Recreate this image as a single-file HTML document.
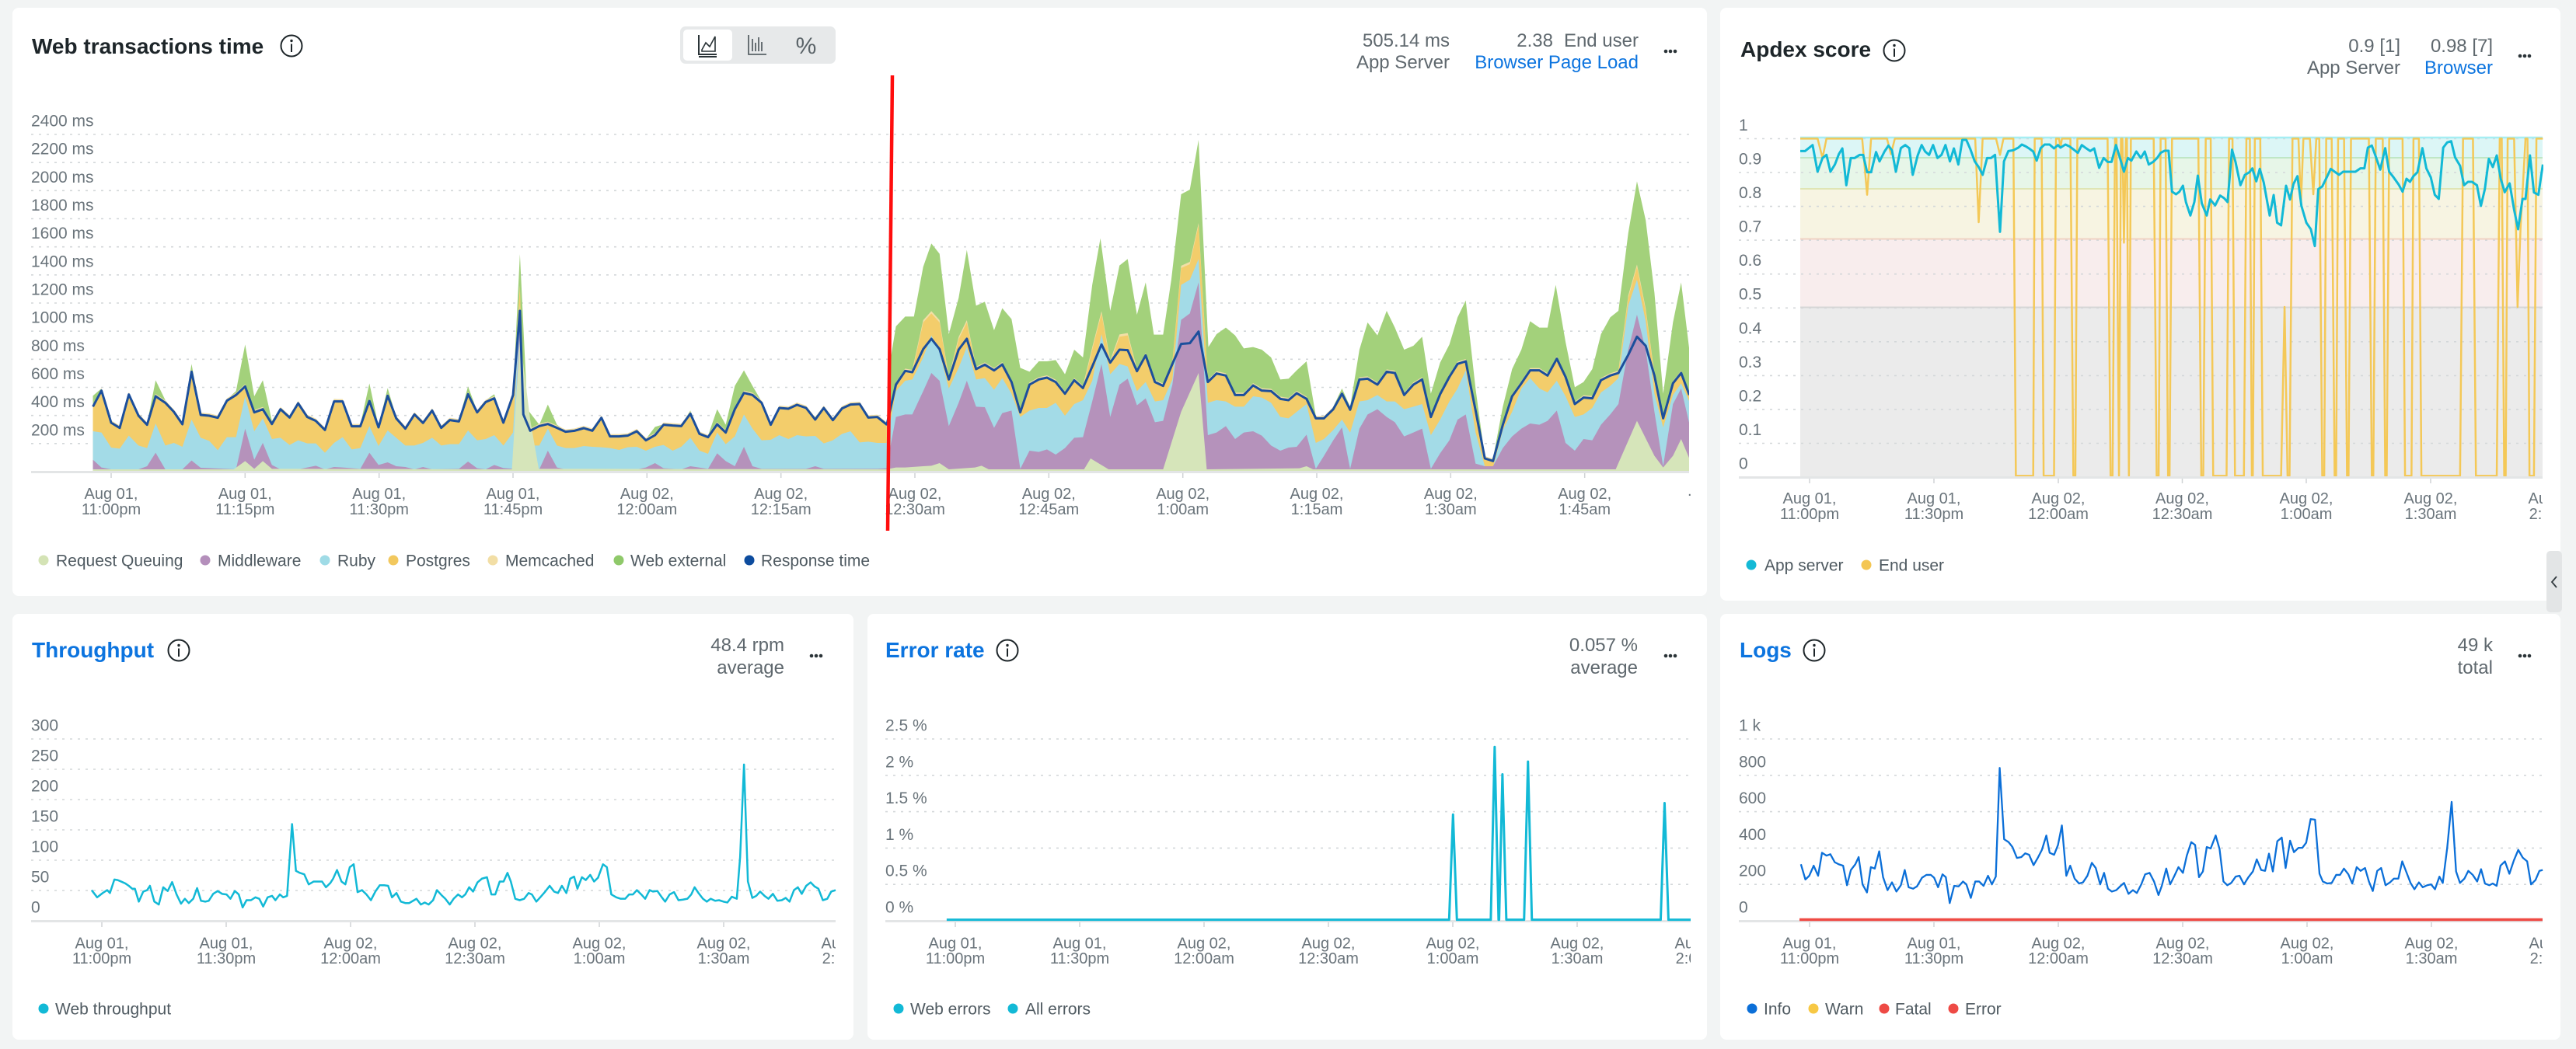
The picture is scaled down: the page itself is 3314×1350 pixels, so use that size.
<!DOCTYPE html>
<html><head><meta charset="utf-8">
<style>
html,body{margin:0;padding:0;background:#f2f4f4;}
svg{display:block;}
text{font-family:"Liberation Sans",Arial,sans-serif;}
.ax{font-size:21px;fill:#6a747b;}
.xl{font-size:20px;fill:#6a747b;text-anchor:middle;}
.lg{font-size:21px;fill:#4f5a61;}
.tt{font-size:28px;font-weight:bold;fill:#1d2529;}
.tb{font-size:28px;font-weight:bold;fill:#0c74df;}
.hv{font-size:24px;fill:#5f686e;text-anchor:end;}
.hb{font-size:24px;fill:#0c74df;text-anchor:end;}
.gd{stroke:#d3d7d9;stroke-width:1.6;stroke-dasharray:3 7;fill:none;}
.bl{stroke:#e3e5e6;stroke-width:3;}
.tk{stroke:#d0d3d5;stroke-width:1.5;}
</style></head><body>
<svg width="3314" height="1350" viewBox="0 0 3314 1350" xmlns="http://www.w3.org/2000/svg">
<defs>
<clipPath id="cA"><rect x="2200" y="600" width="1071" height="100"/></clipPath>
<clipPath id="cT"><rect x="0" y="1190" width="1075" height="80"/></clipPath>
<clipPath id="cE"><rect x="1100" y="1190" width="1075" height="80"/></clipPath>
<clipPath id="cLg"><rect x="2200" y="1190" width="1071" height="80"/></clipPath>
<clipPath id="cW"><rect x="110" y="80" width="2063" height="530"/></clipPath>
<clipPath id="cAp"><rect x="2316" y="170" width="956" height="446"/></clipPath>
<polygon id="pL" points="163,370 178,308 195,432 210,452 226,323 243,405 258,440 273,330 290,355 305,390 320,438 336,235 352,402 367,405 382,413 398,347 414,325 430,292 446,392 461,380 477,437 492,380 508,412 523,357 539,410 554,425 570,460 586,350 601,350 617,446 632,446 648,348 664,450 680,328 695,415 711,455 727,400 742,433 758,385 774,452 789,422 805,427 821,322 837,392 852,352 867,338 883,432 900,325 912,-90 918,400 930,463 946,445 961,437 977,452 992,467 1008,463 1024,453 1039,463 1055,413 1070,485 1086,485 1101,482 1117,465 1133,500 1149,480 1164,440 1180,443 1195,445 1211,397 1227,475 1242,488 1258,438 1273,470 1289,380 1305,317 1320,325 1336,355 1352,440 1367,375 1383,378 1398,363 1414,375 1430,420 1445,375 1461,422 1477,377 1492,362 1508,360 1523,412 1539,410 1557,442 1557,618 163,618"/>
<polygon id="pR" points="58,442 75,285 92,232 105,237 125,45 140,10 155,45 172,265 190,110 205,45 222,225 238,208 255,230 270,207 287,275 303,392 320,285 337,265 352,258 368,275 385,320 402,268 418,298 435,150 452,10 468,200 485,100 500,95 517,233 533,172 550,275 565,290 582,205 598,-165 614,-180 630,-330 647,275 663,242 680,250 697,325 713,325 730,288 746,308 763,310 780,340 795,345 810,318 828,340 845,415 860,415 877,380 893,320 908,382 925,265 940,262 958,285 975,235 990,240 1007,325 1024,285 1040,265 1056,410 1073,322 1090,255 1105,205 1120,195 1138,385 1155,570 1170,580 1188,440 1205,330 1222,280 1238,230 1255,230 1270,250 1287,185 1303,255 1320,360 1336,335 1352,338 1368,268 1385,250 1400,240 1418,-50 1434,-170 1450,0 1466,250 1482,415 1500,280 1515,240 1530,325 1530,618 58,618"/>
</defs>

<!-- panels -->
<rect x="16" y="10" width="2180" height="757" rx="8" fill="#fff"/>
<rect x="2213" y="10" width="1081" height="763" rx="8" fill="#fff"/>
<rect x="16" y="790" width="1082" height="548" rx="8" fill="#fff"/>
<rect x="1116" y="790" width="1080" height="548" rx="8" fill="#fff"/>
<rect x="2213" y="790" width="1081" height="548" rx="8" fill="#fff"/>

<!-- ============ Web transactions time ============ -->
<text class="tt" x="41" y="69">Web transactions time</text>
<circle cx="375" cy="59" r="13.5" fill="none" stroke="#1d2529" stroke-width="2"/>
<circle cx="375" cy="52.5" r="1.7" fill="#1d2529"/>
<line x1="375" y1="56.5" x2="375" y2="67" stroke="#1d2529" stroke-width="2"/>

<rect x="875" y="34" width="200" height="48" rx="7" fill="#e7e9ea"/>
<rect x="879" y="38" width="63" height="40" rx="5" fill="#fff"/>
<path d="M899,45 L899,70 L922,70 M899,73 L922,73" stroke="#2a3337" stroke-width="2" fill="none"/>
<path d="M903,64 L908,55 L913,60 L920,47 L920,66 L903,66 Z" stroke="#2a3337" stroke-width="1.6" fill="none"/>
<path d="M963,45 L963,70 L986,70 M968,50 L968,66 M972,55 L972,66 M976,48 L976,66 M980,54 L980,66" stroke="#5a6368" stroke-width="1.8" fill="none"/>
<text x="1037" y="69" font-size="30" fill="#5a6368" text-anchor="middle">%</text>

<text class="hv" x="1865" y="60">505.14 ms</text>
<text class="hv" x="1865" y="88">App Server</text>
<text class="hv" x="1998" y="60">2.38</text>
<text class="hv" x="2108" y="60">End user</text>
<text class="hb" x="2108" y="88">Browser Page Load</text>
<circle cx="2143" cy="66" r="2.3" fill="#2b3438"/><circle cx="2149" cy="66" r="2.3" fill="#2b3438"/><circle cx="2155" cy="66" r="2.3" fill="#2b3438"/>

<g class="ax">
<text x="40" y="162.5">2400 ms</text><text x="40" y="198.7">2200 ms</text><text x="40" y="234.8">2000 ms</text>
<text x="40" y="271">1800 ms</text><text x="40" y="307.2">1600 ms</text><text x="40" y="343.3">1400 ms</text>
<text x="40" y="379.5">1200 ms</text><text x="40" y="415.7">1000 ms</text><text x="40" y="451.8">800 ms</text>
<text x="40" y="488">600 ms</text><text x="40" y="524.2">400 ms</text><text x="40" y="560.3">200 ms</text>
</g>
<path class="gd" d="M40,173H2173M40,209.2H2173M40,245.3H2173M40,281.5H2173M40,317.7H2173M40,353.8H2173M40,390H2173M40,426.2H2173M40,462.3H2173M40,498.5H2173M40,534.7H2173M40,570.8H2173"/>

<g clip-path="url(#cW)">
<g transform="matrix(0.7334 0 0 0.33333 0 400)">
<polygon fill="#a3d17b" points="163,328 178,300 195,425 210,448 226,318 243,400 258,435 273,268 290,345 305,385 320,432 336,205 352,398 367,400 382,410 398,342 414,310 430,130 446,330 461,268 477,425 492,375 508,405 523,350 539,405 554,420 570,455 586,340 601,345 617,440 632,440 648,280 664,445 680,298 695,410 711,450 727,395 742,428 758,380 774,447 789,418 805,422 821,292 837,387 852,345 867,322 883,428 900,318 912,-219 925,380 946,440 961,362 977,440 992,462 1008,458 1024,448 1039,458 1055,408 1070,480 1086,480 1101,478 1117,460 1133,495 1149,448 1164,438 1180,438 1195,440 1211,385 1227,470 1242,482 1258,380 1273,440 1289,290 1305,230 1320,290 1336,350 1352,435 1367,370 1383,372 1398,358 1414,372 1430,410 1445,370 1461,418 1477,372 1492,357 1508,355 1523,407 1539,405 1557,440 1557,618 163,618"/>
<use href="#pL" transform="translate(0,-9)" fill="#f2dfa6"/>
<use href="#pL" fill="#f3cd6b"/>
<polygon fill="#a3dbe7" points="163,465 178,470 195,528 210,532 226,482 243,520 258,530 273,435 290,520 305,510 320,525 336,420 352,490 367,502 382,538 398,488 414,488 430,330 446,465 461,415 477,495 492,490 508,518 523,500 539,512 554,512 570,548 586,510 601,488 617,535 632,530 648,445 664,522 680,462 695,490 711,520 727,520 742,510 758,490 774,520 789,515 805,515 821,462 837,500 852,495 867,480 883,520 900,470 912,-21 920,440 930,520 946,520 961,455 977,520 992,530 1008,530 1024,522 1039,525 1055,527 1070,530 1086,537 1101,527 1117,525 1133,540 1149,525 1164,518 1180,540 1195,525 1211,490 1227,540 1242,552 1258,470 1273,515 1289,485 1305,400 1320,455 1336,500 1352,498 1367,480 1383,495 1398,480 1414,485 1430,483 1445,512 1461,500 1477,475 1492,465 1508,508 1523,505 1539,510 1557,510 1557,618 163,618"/>
<polygon fill="#b592bb" points="163,575 178,605 195,612 243,612 258,600 273,548 290,612 320,612 336,578 352,606 414,612 430,455 446,575 461,510 477,595 492,612 523,612 539,605 554,598 570,612 586,603 601,605 632,610 648,548 664,595 680,585 695,600 711,603 727,612 742,603 758,612 805,610 821,582 837,608 852,612 867,595 883,607 900,610 912,30 920,600 946,612 961,540 977,605 992,612 1117,612 1133,605 1149,588 1164,608 1195,612 1211,600 1242,610 1258,550 1273,580 1289,600 1305,525 1320,600 1336,610 1414,610 1430,600 1445,610 1539,610 1557,608 1557,618 163,618"/>
<polygon fill="#d6e5ba" points="163,612 410,612 430,580 446,610 461,580 477,610 898,612 912,100 930,420 945,610 1557,612 1557,618 163,618"/>
<polyline fill="none" stroke="#1c4f9c" stroke-width="3" vector-effect="non-scaling-stroke" stroke-linejoin="round" points="163,370 178,308 195,432 210,452 226,323 243,405 258,440 273,330 290,355 305,390 320,438 336,235 352,402 367,405 382,413 398,347 414,325 430,292 446,392 461,380 477,437 492,380 508,412 523,357 539,410 554,425 570,460 586,350 601,350 617,446 632,446 648,348 664,450 680,328 695,415 711,455 727,400 742,433 758,385 774,452 789,422 805,427 821,322 837,392 852,352 867,338 883,432 900,325 912,0 918,400 930,463 946,445 961,437 977,452 992,467 1008,463 1024,453 1039,463 1055,413 1070,485 1086,485 1101,482 1117,465 1133,500 1149,480 1164,440 1180,443 1195,445 1211,397 1227,475 1242,488 1258,438 1273,470 1289,380 1305,317 1320,325 1336,355 1352,440 1367,375 1383,378 1398,363 1414,375 1430,420 1445,375 1461,422 1477,377 1492,362 1508,360 1523,412 1539,410 1557,442"/>
</g>
<g transform="matrix(0.7015 0 0 0.33333 1100 400)">
<polygon fill="#a3d17b" points="58,442 64,200 75,60 92,22 108,22 125,-170 140,-260 155,-220 172,90 190,-50 205,-235 222,-20 238,-35 255,75 270,-10 287,32 303,220 320,235 337,195 352,195 368,190 385,245 402,150 418,180 435,-100 450,-280 468,0 485,-175 500,-200 517,15 533,-110 548,92 565,92 580,-120 598,-450 614,-468 630,-660 648,140 663,90 680,65 697,95 713,145 730,140 746,150 763,180 780,265 795,262 810,230 828,195 845,405 860,420 877,370 893,300 908,370 925,150 940,45 958,95 975,0 990,65 1007,150 1024,135 1040,100 1056,320 1073,200 1090,130 1105,25 1120,-40 1138,300 1155,565 1170,570 1188,370 1205,225 1222,150 1238,40 1255,65 1270,65 1285,-100 1303,120 1320,295 1336,275 1352,225 1368,90 1385,25 1400,0 1418,-300 1434,-500 1450,-350 1466,-70 1482,320 1500,45 1515,-110 1530,150 1530,618 58,618"/>
<use href="#pR" transform="translate(0,-9)" fill="#f2dfa6"/>
<use href="#pR" fill="#f3cd6b"/>
<polygon fill="#a3dbe7" points="58,505 75,310 92,270 105,265 125,180 140,95 155,160 172,300 190,220 205,140 222,265 238,260 255,305 270,260 287,320 303,410 320,385 337,375 352,375 368,355 385,405 402,360 418,345 435,270 452,90 468,245 485,205 500,215 517,310 533,275 550,350 565,345 582,265 598,-100 614,-120 630,-200 647,355 663,345 680,350 697,370 713,370 730,330 746,335 763,355 780,410 795,415 810,390 828,360 845,510 860,495 877,460 893,420 908,470 925,350 940,345 958,325 975,350 990,350 1007,380 1024,370 1040,360 1056,480 1073,420 1090,350 1105,300 1120,230 1138,470 1155,600 1170,605 1188,460 1205,390 1222,300 1238,260 1255,300 1270,315 1287,270 1303,330 1320,410 1336,400 1352,375 1368,315 1385,290 1400,260 1418,-20 1434,-120 1450,40 1466,320 1482,450 1500,325 1515,280 1530,350 1530,618 58,618"/>
<polygon fill="#b592bb" points="58,600 75,410 92,400 105,400 125,310 140,240 155,270 172,445 190,355 205,270 222,370 238,372 255,452 270,395 287,385 303,610 320,540 337,545 352,535 368,555 385,530 402,490 418,488 435,350 452,205 468,410 485,285 500,262 517,365 533,338 550,430 565,425 582,285 598,35 614,10 630,-110 647,480 663,470 680,445 697,495 713,470 730,465 746,482 763,520 780,540 795,528 810,525 828,478 845,610 860,560 877,500 893,450 908,610 925,455 940,400 958,380 975,410 990,430 1007,485 1024,470 1040,455 1056,610 1073,550 1090,500 1105,420 1120,400 1138,590 1155,600 1170,600 1188,530 1205,485 1222,455 1238,435 1255,440 1270,425 1287,385 1303,510 1320,540 1336,495 1352,500 1368,440 1385,400 1400,360 1418,150 1434,15 1450,150 1466,390 1482,600 1500,360 1515,300 1530,435 1530,618 58,618"/>
<polygon fill="#d6e5ba" points="58,612 75,605 92,605 125,600 140,598 155,588 172,612 220,605 232,598 245,612 420,612 432,570 465,612 565,612 598,390 630,240 645,612 815,608 828,600 840,612 1395,612 1434,425 1466,560 1482,605 1500,560 1515,495 1530,570 1530,618 58,618"/>
<polyline fill="none" stroke="#1c4f9c" stroke-width="3" vector-effect="non-scaling-stroke" stroke-linejoin="round" points="58,442 75,285 92,232 105,237 125,148 140,108 155,148 172,265 190,150 205,108 222,225 238,208 255,230 270,207 287,275 303,392 320,285 337,265 352,258 368,275 385,320 402,268 418,298 435,215 452,130 468,200 485,150 500,152 517,233 533,172 550,275 565,290 582,205 598,128 614,125 630,80 647,275 663,242 680,250 697,325 713,325 730,288 746,308 763,310 780,340 795,345 810,318 828,340 845,415 860,415 877,380 893,320 908,382 925,265 940,262 958,285 975,235 990,240 1007,325 1024,285 1040,265 1056,410 1073,322 1090,255 1105,205 1120,195 1138,385 1155,570 1170,580 1188,440 1205,330 1222,280 1238,230 1255,230 1270,250 1287,185 1303,255 1320,360 1336,335 1352,338 1368,268 1385,250 1400,240 1418,170 1434,100 1450,135 1466,250 1482,415 1500,280 1515,240 1530,325"/>
</g>
</g>
<line class="bl" x1="40" y1="607.5" x2="2173" y2="607.5"/>
<path class="tk" d="M143,609V615M315.3,609V615M487.7,609V615M660,609V615M832.3,609V615M1004.7,609V615M1177,609V615M1349.3,609V615M1521.7,609V615M1694,609V615M1866.3,609V615M2038.7,609V615"/>
<g class="xl">
<text x="143" y="642">Aug 01,</text><text x="143" y="662">11:00pm</text>
<text x="315.3" y="642">Aug 01,</text><text x="315.3" y="662">11:15pm</text>
<text x="487.7" y="642">Aug 01,</text><text x="487.7" y="662">11:30pm</text>
<text x="660" y="642">Aug 01,</text><text x="660" y="662">11:45pm</text>
<text x="832.3" y="642">Aug 02,</text><text x="832.3" y="662">12:00am</text>
<text x="1004.7" y="642">Aug 02,</text><text x="1004.7" y="662">12:15am</text>
<text x="1177" y="642">Aug 02,</text><text x="1177" y="662">12:30am</text>
<text x="1349.3" y="642">Aug 02,</text><text x="1349.3" y="662">12:45am</text>
<text x="1521.7" y="642">Aug 02,</text><text x="1521.7" y="662">1:00am</text>
<text x="1694" y="642">Aug 02,</text><text x="1694" y="662">1:15am</text>
<text x="1866.3" y="642">Aug 02,</text><text x="1866.3" y="662">1:30am</text>
<text x="2038.7" y="642">Aug 02,</text><text x="2038.7" y="662">1:45am</text>
</g>
<text x="2171" y="638" font-size="20" fill="#6a747b">.</text>
<line x1="1148" y1="97" x2="1142" y2="683" stroke="#ff0d0d" stroke-width="4.5"/>

<circle cx="56" cy="721" r="6.5" fill="#d4e3b5"/><text class="lg" x="72" y="728.5">Request Queuing</text>
<circle cx="264" cy="721" r="6.5" fill="#b48fbb"/><text class="lg" x="280" y="728.5">Middleware</text>
<circle cx="418" cy="721" r="6.5" fill="#9fdbe6"/><text class="lg" x="434" y="728.5">Ruby</text>
<circle cx="506" cy="721" r="6.5" fill="#f2c85e"/><text class="lg" x="522" y="728.5">Postgres</text>
<circle cx="634" cy="721" r="6.5" fill="#f2dea5"/><text class="lg" x="650" y="728.5">Memcached</text>
<circle cx="796" cy="721" r="6.5" fill="#8fc96a"/><text class="lg" x="811" y="728.5">Web external</text>
<circle cx="964" cy="721" r="6.5" fill="#0d4c9e"/><text class="lg" x="979" y="728.5">Response time</text>

<!-- ============ Apdex ============ -->
<text class="tt" x="2239" y="73">Apdex score</text>
<circle cx="2437" cy="65" r="13.5" fill="none" stroke="#1d2529" stroke-width="2"/>
<circle cx="2437" cy="58.5" r="1.7" fill="#1d2529"/>
<line x1="2437" y1="62.5" x2="2437" y2="73" stroke="#1d2529" stroke-width="2"/>
<text class="hv" x="3088" y="67">0.9 [1]</text>
<text class="hv" x="3088" y="95">App Server</text>
<text class="hv" x="3207" y="67">0.98 [7]</text>
<text class="hb" x="3207" y="95">Browser</text>
<circle cx="3242" cy="72" r="2.3" fill="#2b3438"/><circle cx="3248" cy="72" r="2.3" fill="#2b3438"/><circle cx="3254" cy="72" r="2.3" fill="#2b3438"/>

<g class="ax">
<text x="2237" y="168">1</text><text x="2237" y="211.5">0.9</text><text x="2237" y="255.1">0.8</text>
<text x="2237" y="298.6">0.7</text><text x="2237" y="342.2">0.6</text><text x="2237" y="385.7">0.5</text>
<text x="2237" y="429.3">0.4</text><text x="2237" y="472.8">0.3</text><text x="2237" y="516.4">0.2</text>
<text x="2237" y="560">0.1</text><text x="2237" y="603.5">0</text>
</g>
<rect x="2316" y="177" width="955" height="26" fill="#dcf6f6"/>
<rect x="2316" y="203" width="955" height="40" fill="#e7f6e8"/>
<rect x="2316" y="243" width="955" height="64.5" fill="#f7f4e2"/>
<rect x="2316" y="307.5" width="955" height="88" fill="#f8eded"/>
<rect x="2316" y="395.5" width="955" height="217.5" fill="#ebebeb"/>
<path class="gd" d="M2237,178.5H3271M2237,222H3271M2237,265.6H3271M2237,309.1H3271M2237,352.7H3271M2237,396.3H3271M2237,439.8H3271M2237,483.4H3271M2237,526.9H3271M2237,570.5H3271"/>
<line x1="2316" y1="177" x2="3271" y2="177" stroke="#a5eef3" stroke-width="2.5"/>
<line x1="2316" y1="203" x2="3271" y2="203" stroke="#bfe7c6" stroke-width="2"/>
<line x1="2316" y1="243" x2="3271" y2="243" stroke="#dfe5b4" stroke-width="2"/>
<line x1="2316" y1="307.5" x2="3271" y2="307.5" stroke="#f0d2c4" stroke-width="2"/>
<line x1="2316" y1="395.5" x2="3271" y2="395.5" stroke="#d6d6d6" stroke-width="2"/>
<g clip-path="url(#cAp)">
<g transform="matrix(0.6378 0 0 0.33333 2300 160)">
<path fill="none" stroke="#f4c857" stroke-width="2.5" vector-effect="non-scaling-stroke" stroke-linejoin="round" d="M25,55 L60,55 L70,130 L78,55 L150,55 L160,272 L168,55 L200,55 L208,115 L216,55 L378,55 L385,378 L393,55 L420,55 L428,118 L435,55 L455,55 L460,1357 L495,1357 L498,55 L512,55 L516,1357 L537,1357 L541,55 L547,55 L550,90 L553,55 L570,55 L576,1357 L580,1357 L584,55 L645,55 L651,1357 L655,1357 L660,55 L663,55 L668,1357 L672,55 L675,55 L678,457 L682,55 L684,55 L688,1357 L692,55 L738,55 L744,1357 L748,1357 L752,55 L762,55 L767,1357 L770,1357 L775,55 L828,55 L834,1357 L838,1357 L843,55 L853,55 L858,1357 L885,1357 L890,55 L897,55 L902,1357 L920,1357 L925,55 L932,55 L936,1357 L938,1357 L942,55 L953,55 L958,1357 L995,1357 L1002,705 L1008,1357 L1012,1357 L1018,55 L1030,55 L1035,310 L1040,55 L1053,55 L1060,270 L1066,55 L1072,55 L1078,1357 L1082,1357 L1086,55 L1097,55 L1103,1357 L1106,1357 L1110,55 L1122,55 L1128,1357 L1131,1357 L1136,55 L1172,55 L1178,1357 L1181,1357 L1186,55 L1200,55 L1205,1357 L1208,1357 L1213,55 L1240,55 L1245,1357 L1258,1357 L1262,55 L1273,55 L1278,1357 L1356,1357 L1362,55 L1382,55 L1388,1357 L1430,1357 L1436,55 L1440,55 L1445,1357 L1448,1357 L1452,55 L1465,55 L1472,705 L1478,400 L1488,55 L1492,55 L1496,1357 L1505,1357 L1510,55 L1523,55"/>
<polyline fill="none" stroke="#12b9d6" stroke-width="3" vector-effect="non-scaling-stroke" stroke-linejoin="round" points="25,103 35,103 50,80 60,183 70,130 78,118 86,183 95,155 103,115 110,93 118,235 127,130 135,130 145,118 152,118 160,185 168,185 178,107 185,143 195,105 203,82 210,100 218,183 228,92 237,80 245,92 252,195 262,120 270,80 277,105 285,118 293,80 302,130 310,118 318,80 327,143 335,93 344,155 352,60 360,60 368,95 377,143 385,165 393,195 402,130 410,130 418,118 428,415 436,143 445,103 455,100 465,90 472,78 480,85 488,95 495,105 502,140 510,92 518,78 528,78 537,93 545,80 550,90 560,78 568,85 575,95 585,110 593,80 600,90 610,103 618,93 628,168 637,130 645,145 653,145 662,80 670,130 678,183 686,130 693,140 703,105 712,130 720,105 728,155 737,145 745,130 752,110 760,102 768,102 775,260 783,270 790,260 797,237 803,300 812,352 820,300 827,198 835,305 845,352 852,290 862,313 872,275 880,285 887,300 896,98 903,145 913,235 922,195 931,185 937,170 945,220 952,172 960,225 972,352 980,273 987,380 995,390 1005,237 1013,290 1020,230 1028,200 1036,315 1046,380 1055,405 1063,470 1070,250 1078,240 1087,205 1095,172 1103,183 1112,195 1120,183 1135,183 1145,183 1155,170 1163,170 1170,90 1178,82 1187,130 1195,175 1205,92 1213,183 1222,205 1232,232 1240,260 1248,210 1255,222 1262,200 1270,185 1280,92 1288,170 1297,205 1305,272 1313,288 1322,90 1330,70 1338,65 1346,128 1356,160 1364,235 1372,222 1380,222 1390,235 1398,315 1406,250 1414,133 1422,165 1430,120 1438,210 1446,262 1456,228 1465,330 1473,405 1482,288 1488,288 1497,120 1505,263 1514,272 1523,155"/>
</g>
</g>
<line class="bl" x1="2237" y1="614.5" x2="3271" y2="614.5"/>
<path class="tk" d="M2328,616V622M2488,616V622M2648,616V622M2807.5,616V622M2967,616V622M3127,616V622"/>
<g class="xl" clip-path="url(#cA)">
<text x="2328" y="648">Aug 01,</text><text x="2328" y="668">11:00pm</text>
<text x="2488" y="648">Aug 01,</text><text x="2488" y="668">11:30pm</text>
<text x="2648" y="648">Aug 02,</text><text x="2648" y="668">12:00am</text>
<text x="2807.5" y="648">Aug 02,</text><text x="2807.5" y="668">12:30am</text>
<text x="2967" y="648">Aug 02,</text><text x="2967" y="668">1:00am</text>
<text x="3127" y="648">Aug 02,</text><text x="3127" y="668">1:30am</text>
<text x="3287" y="648">Aug 02,</text><text x="3287" y="668">2:00am</text>
</g>
<circle cx="2253" cy="727" r="6.5" fill="#14b9d6"/><text class="lg" x="2270" y="734.5">App server</text>
<circle cx="2401" cy="727" r="6.5" fill="#f4c653"/><text class="lg" x="2417" y="734.5">End user</text>
<rect x="3276" y="709" width="20" height="79" rx="5" fill="#e3e5e6"/>
<path d="M3289,742 L3283,749 L3289,756" stroke="#333b40" stroke-width="1.8" fill="none"/>

<!-- ============ Throughput ============ -->
<text class="tb" x="41" y="846">Throughput</text>
<circle cx="230" cy="837" r="13.5" fill="none" stroke="#1d2529" stroke-width="2"/>
<circle cx="230" cy="830.5" r="1.7" fill="#1d2529"/>
<line x1="230" y1="834.5" x2="230" y2="845" stroke="#1d2529" stroke-width="2"/>
<text class="hv" x="1009" y="838">48.4 rpm</text>
<text class="hv" x="1009" y="867">average</text>
<circle cx="1044" cy="844" r="2.3" fill="#2b3438"/><circle cx="1050" cy="844" r="2.3" fill="#2b3438"/><circle cx="1056" cy="844" r="2.3" fill="#2b3438"/>
<g class="ax">
<text x="40" y="940.5">300</text><text x="40" y="979.5">250</text><text x="40" y="1018.5">200</text>
<text x="40" y="1057.5">150</text><text x="40" y="1096.5">100</text><text x="40" y="1135.5">50</text><text x="40" y="1174.5">0</text>
</g>
<path class="gd" d="M40,951H1075M40,990H1075M40,1029H1075M40,1068H1075M40,1107H1075M40,1146H1075"/>
<line class="bl" x1="40" y1="1185.5" x2="1075" y2="1185.5"/>
<path class="tk" d="M131,1187V1193M291,1187V1193M451,1187V1193M611,1187V1193M771,1187V1193M931,1187V1193"/>
<g transform="matrix(0.7143 0 0 0.37 0 770)">
<polyline fill="none" stroke="#12b9d6" stroke-width="2.5" vector-effect="non-scaling-stroke" stroke-linejoin="round" points="165,1015 175,1040 185,1025 193,1015 198,1025 206,978 212,980 218,985 226,992 232,1000 238,1010 243,1010 250,1055 258,1020 265,1015 270,1000 278,1055 286,1065 294,1005 302,1018 310,987 318,1030 326,1062 333,1045 340,1060 348,1045 355,1008 362,1052 370,1055 376,1052 384,1028 392,1018 400,1028 408,1030 415,1045 423,1018 430,1030 437,1075 444,1050 452,1050 460,1040 467,1045 474,1072 482,1040 490,1035 496,1050 504,1030 510,1040 517,1035 526,785 533,948 540,955 548,960 556,995 565,985 575,985 580,985 587,1005 595,990 600,975 607,945 615,985 622,995 630,935 637,925 644,1022 652,1015 660,1030 668,1050 676,1020 684,998 692,998 699,1000 706,1040 714,1025 722,1055 730,1060 737,1060 744,1052 750,1045 758,1065 765,1058 772,1065 780,1050 787,1015 795,1032 802,1045 810,1065 817,1045 825,1030 832,1040 838,1030 845,1005 852,1020 860,988 868,975 877,970 885,1030 892,1030 900,985 907,985 914,955 920,985 928,1045 936,1050 944,1045 952,1025 958,1030 966,1055 973,1040 982,1020 990,1000 998,1020 1005,1025 1012,1000 1020,1025 1027,975 1034,968 1040,1010 1048,970 1055,980 1063,962 1070,985 1077,972 1086,925 1093,935 1101,1030 1110,1040 1118,1045 1126,1045 1133,1030 1140,1030 1147,1015 1155,1030 1162,1045 1170,1015 1176,1020 1184,1018 1192,1040 1198,1055 1206,1030 1214,1022 1222,1050 1230,1048 1238,1045 1245,1030 1251,1005 1258,1025 1266,1045 1273,1055 1280,1045 1288,1052 1295,1050 1303,1055 1310,1058 1318,1038 1327,1045 1333,900 1340,578 1347,985 1355,1042 1362,1035 1369,1020 1377,1035 1384,1045 1392,1028 1400,1052 1408,1050 1415,1042 1422,1055 1430,1015 1437,1005 1444,1028 1452,1000 1460,988 1467,1002 1474,1010 1482,1050 1490,1045 1497,1020 1505,1015"/>
</g>
<g class="xl" clip-path="url(#cT)">
<text x="131" y="1220.5">Aug 01,</text><text x="131" y="1240">11:00pm</text>
<text x="291" y="1220.5">Aug 01,</text><text x="291" y="1240">11:30pm</text>
<text x="451" y="1220.5">Aug 02,</text><text x="451" y="1240">12:00am</text>
<text x="611" y="1220.5">Aug 02,</text><text x="611" y="1240">12:30am</text>
<text x="771" y="1220.5">Aug 02,</text><text x="771" y="1240">1:00am</text>
<text x="931" y="1220.5">Aug 02,</text><text x="931" y="1240">1:30am</text>
<text x="1091" y="1220.5">Aug 02,</text><text x="1091" y="1240">2:00am</text>
</g>
<circle cx="56" cy="1298" r="6.5" fill="#12b9d6"/><text class="lg" x="71" y="1305.5">Web throughput</text>

<!-- ============ Error rate ============ -->
<text class="tb" x="1139" y="846">Error rate</text>
<circle cx="1296" cy="837" r="13.5" fill="none" stroke="#1d2529" stroke-width="2"/>
<circle cx="1296" cy="830.5" r="1.7" fill="#1d2529"/>
<line x1="1296" y1="834.5" x2="1296" y2="845" stroke="#1d2529" stroke-width="2"/>
<text class="hv" x="2107" y="838">0.057 %</text>
<text class="hv" x="2107" y="867">average</text>
<circle cx="2143" cy="844" r="2.3" fill="#2b3438"/><circle cx="2149" cy="844" r="2.3" fill="#2b3438"/><circle cx="2155" cy="844" r="2.3" fill="#2b3438"/>
<g class="ax">
<text x="1139" y="940.5">2.5 %</text><text x="1139" y="987.3">2 %</text><text x="1139" y="1034.1">1.5 %</text>
<text x="1139" y="1080.9">1 %</text><text x="1139" y="1127.7">0.5 %</text><text x="1139" y="1174.5">0 %</text>
</g>
<path class="gd" d="M1139,951H2175M1139,997.8H2175M1139,1044.6H2175M1139,1091.4H2175M1139,1138.2H2175"/>
<line class="bl" x1="1139" y1="1185.5" x2="2175" y2="1185.5"/>
<path class="tk" d="M1229,1187V1193M1389,1187V1193M1549,1187V1193M1709,1187V1193M1869,1187V1193M2029,1187V1193"/>
<g transform="matrix(0.7143 0 0 0.37 1100 770)">
<polyline fill="none" stroke="#12b9d6" stroke-width="3" vector-effect="non-scaling-stroke" stroke-linejoin="round" points="165,1118 1070,1118 1077,752 1084,1118 1145,1118 1152,517 1159,1118 1160,1118 1166,612 1173,1118 1205,1118 1212,568 1219,1118 1451,1118 1458,712 1465,1118 1505,1118"/>
</g>
<g class="xl" clip-path="url(#cE)">
<text x="1229" y="1220.5">Aug 01,</text><text x="1229" y="1240">11:00pm</text>
<text x="1389" y="1220.5">Aug 01,</text><text x="1389" y="1240">11:30pm</text>
<text x="1549" y="1220.5">Aug 02,</text><text x="1549" y="1240">12:00am</text>
<text x="1709" y="1220.5">Aug 02,</text><text x="1709" y="1240">12:30am</text>
<text x="1869" y="1220.5">Aug 02,</text><text x="1869" y="1240">1:00am</text>
<text x="2029" y="1220.5">Aug 02,</text><text x="2029" y="1240">1:30am</text>
<text x="2189" y="1220.5">Aug 02,</text><text x="2189" y="1240">2:00am</text>
</g>
<circle cx="1156" cy="1298" r="6.5" fill="#12b9d6"/><text class="lg" x="1171" y="1305.5">Web errors</text>
<circle cx="1303" cy="1298" r="6.5" fill="#12b9d6"/><text class="lg" x="1319" y="1305.5">All errors</text>

<!-- ============ Logs ============ -->
<text class="tb" x="2238" y="846">Logs</text>
<circle cx="2334" cy="837" r="13.5" fill="none" stroke="#1d2529" stroke-width="2"/>
<circle cx="2334" cy="830.5" r="1.7" fill="#1d2529"/>
<line x1="2334" y1="834.5" x2="2334" y2="845" stroke="#1d2529" stroke-width="2"/>
<text class="hv" x="3207" y="838">49 k</text>
<text class="hv" x="3207" y="867">total</text>
<circle cx="3242" cy="844" r="2.3" fill="#2b3438"/><circle cx="3248" cy="844" r="2.3" fill="#2b3438"/><circle cx="3254" cy="844" r="2.3" fill="#2b3438"/>
<g class="ax">
<text x="2237" y="940.5">1 k</text><text x="2237" y="987.3">800</text><text x="2237" y="1034.1">600</text>
<text x="2237" y="1080.9">400</text><text x="2237" y="1127.7">200</text><text x="2237" y="1174.5">0</text>
</g>
<path class="gd" d="M2237,951H3271M2237,997.8H3271M2237,1044.6H3271M2237,1091.4H3271M2237,1138.2H3271"/>
<line class="bl" x1="2237" y1="1185.5" x2="3271" y2="1185.5"/>
<path class="tk" d="M2328,1187V1193M2488,1187V1193M2648,1187V1193M2808,1187V1193M2968,1187V1193M3128,1187V1193"/>
<line x1="2315" y1="1183.5" x2="3271" y2="1183.5" stroke="#ef4a44" stroke-width="3.5"/>
<g transform="matrix(0.7143 0 0 0.37 2194 770)">
<polyline fill="none" stroke="#0b6fd8" stroke-width="2.3" vector-effect="non-scaling-stroke" stroke-linejoin="round" points="172,925 180,978 187,965 195,930 203,965 210,885 218,895 225,890 233,918 240,925 248,930 255,998 262,945 270,925 276,900 283,995 291,1023 298,935 305,940 313,880 320,970 328,1015 336,988 344,1020 352,998 359,945 366,1005 374,1010 381,1002 390,972 398,962 406,962 412,972 419,1005 427,960 433,970 440,1060 448,1000 456,1002 464,985 470,995 478,1042 486,985 493,985 501,1000 509,965 516,995 523,968 530,590 538,838 546,848 553,865 561,903 569,900 576,887 583,892 591,928 598,905 606,875 614,825 620,885 628,892 635,858 642,790 650,965 657,930 665,975 673,992 680,988 688,965 696,920 703,938 711,995 718,955 725,1010 732,1020 740,1015 748,1000 754,990 762,1028 770,1015 777,1025 785,995 792,960 800,955 808,985 816,1032 822,1000 830,940 837,995 844,968 852,935 860,955 867,895 875,848 882,858 889,970 896,950 903,865 910,870 919,825 926,872 933,985 940,998 947,990 955,968 962,965 970,995 978,970 986,950 993,908 1001,945 1008,948 1015,888 1022,950 1030,845 1038,832 1045,938 1053,843 1060,883 1068,868 1075,868 1082,850 1090,768 1098,770 1106,958 1112,985 1120,992 1128,990 1136,962 1143,962 1150,940 1158,960 1165,992 1173,935 1180,948 1188,938 1195,985 1202,1018 1210,948 1217,938 1225,998 1233,988 1240,975 1248,975 1255,915 1262,950 1270,990 1277,1012 1285,988 1292,1005 1300,998 1307,995 1314,1012 1322,968 1328,990 1336,868 1344,708 1352,950 1359,990 1367,975 1374,948 1382,962 1390,985 1397,942 1404,992 1412,998 1418,992 1425,1000 1432,930 1440,915 1448,958 1456,912 1464,875 1472,902 1480,915 1487,995 1495,980 1502,948 1508,945"/>
</g>
<g class="xl" clip-path="url(#cLg)">
<text x="2328" y="1220.5">Aug 01,</text><text x="2328" y="1240">11:00pm</text>
<text x="2488" y="1220.5">Aug 01,</text><text x="2488" y="1240">11:30pm</text>
<text x="2648" y="1220.5">Aug 02,</text><text x="2648" y="1240">12:00am</text>
<text x="2808" y="1220.5">Aug 02,</text><text x="2808" y="1240">12:30am</text>
<text x="2968" y="1220.5">Aug 02,</text><text x="2968" y="1240">1:00am</text>
<text x="3128" y="1220.5">Aug 02,</text><text x="3128" y="1240">1:30am</text>
<text x="3288" y="1220.5">Aug 02,</text><text x="3288" y="1240">2:00am</text>
</g>
<circle cx="2254" cy="1298" r="6.5" fill="#0b6fd8"/><text class="lg" x="2269" y="1305.5">Info</text>
<circle cx="2333" cy="1298" r="6.5" fill="#f7c844"/><text class="lg" x="2348" y="1305.5">Warn</text>
<circle cx="2424" cy="1298" r="6.5" fill="#ee4a45"/><text class="lg" x="2438" y="1305.5">Fatal</text>
<circle cx="2513" cy="1298" r="6.5" fill="#ee4a45"/><text class="lg" x="2528" y="1305.5">Error</text>
</svg>
</body></html>
